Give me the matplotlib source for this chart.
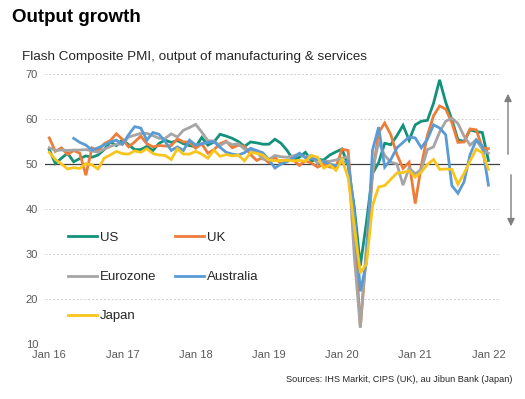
import numpy as np
import matplotlib
matplotlib.use("Agg")
import matplotlib.pyplot as plt

plt.rcParams['font.family'] = ['Liberation Sans', 'DejaVu Sans']

# monthly data, Jan 2016 .. Jan 2022
months = np.arange(73)
tick_months = [0, 12, 24, 36, 48, 60, 72]
tick_labels = ["Jan 16", "Jan 17", "Jan 18", "Jan 19", "Jan 20", "Jan 21", "Jan 22"]

us = [53.2, 50.1, 51.3, 52.4, 50.5, 51.2, 51.8, 51.5, 52.0, 53.2, 54.9, 54.1,
      55.4, 54.3, 53.2, 53.2, 53.9, 53.0, 54.6, 55.3, 54.8, 55.2, 54.5, 54.1,
      53.8, 55.9, 54.2, 54.9, 56.6, 56.2, 55.7, 55.0, 53.9, 54.9, 54.7, 54.4,
      54.4, 55.5, 54.6, 53.0, 50.9, 51.5, 52.6, 50.7, 51.0, 50.9, 52.0, 52.7,
      53.3, 49.6, 40.5, 27.4, 37.0, 47.9, 50.3, 54.6, 54.3, 56.3, 58.6, 55.3,
      58.7, 59.5, 59.7, 63.5, 68.7, 63.7, 59.9, 55.4, 55.0, 57.6, 57.2, 57.0,
      50.8]
uk = [55.8, 52.8, 53.6, 52.1, 53.0, 52.4, 47.5, 53.6, 52.9, 54.5, 55.2, 56.7,
      55.5, 53.8, 54.9, 56.2, 54.5, 53.8, 54.1, 54.0, 54.1, 55.6, 54.9, 54.9,
      53.5, 54.5, 52.4, 53.2, 54.5, 55.1, 53.6, 54.2, 53.9, 52.1, 50.8, 51.4,
      50.3, 51.5, 50.0, 50.9, 50.9, 49.7, 50.7, 50.2, 49.3, 50.0, 49.3, 49.3,
      53.3, 53.0, 36.0, 13.8, 30.0, 47.7, 57.0, 59.1, 56.5, 52.1, 49.0, 50.4,
      41.2, 49.6, 56.4, 60.7, 62.9, 62.2, 59.2, 54.8, 54.9, 57.8, 57.6, 53.6,
      53.4]
eurozone = [53.6, 53.0, 53.1, 53.0, 53.1, 53.1, 53.2, 52.9, 52.6, 53.3, 53.9, 54.4,
            54.4, 56.0, 56.4, 56.8, 56.8, 56.3, 55.7, 55.7, 56.7, 56.0, 57.5, 58.1,
            58.8, 57.1, 55.2, 55.1, 54.1, 54.9, 54.3, 54.5, 53.3, 53.1, 52.7, 51.1,
            51.0, 51.9, 51.6, 51.5, 51.8, 52.2, 51.5, 51.9, 50.1, 50.6, 50.6, 50.9,
            51.3, 51.6, 29.7, 13.6, 31.9, 48.5, 54.9, 51.9, 50.4, 50.0, 45.3, 49.1,
            47.8, 48.8, 53.2, 53.8, 57.1, 59.5, 60.2, 59.0, 56.2, 54.2, 55.4, 53.3,
            52.4]
australia = [np.nan, np.nan, np.nan, np.nan, 55.7, 54.8, 54.2, 53.1, 53.6, 54.2, 54.9, 55.3,
             54.4, 56.5, 58.3, 58.0, 55.3, 57.0, 56.6, 55.0, 53.0, 53.8, 53.0, 55.3,
             54.2, 54.5, 54.8, 55.0, 53.7, 52.6, 52.2, 52.0, 52.5, 53.5, 53.0, 52.5,
             51.0, 49.1, 50.0, 50.5, 51.3, 52.4, 51.4, 51.2, 51.0, 50.5, 50.0, 49.6,
             50.3, 50.6, 39.5, 21.7, 28.0, 53.1, 58.2, 49.3, 51.0, 53.6, 54.8, 56.0,
             55.8, 53.6, 55.5, 58.7, 58.0, 56.5, 45.2, 43.5, 46.0, 52.1, 55.3, 54.0,
             45.3]
japan = [52.6, 51.0, 50.0, 48.9, 49.2, 49.0, 50.1, 49.8, 48.9, 51.3, 52.0, 52.8,
         52.3, 52.2, 52.9, 52.6, 53.4, 52.3, 52.0, 51.9, 51.0, 53.4, 52.2, 52.2,
         52.8, 52.2, 51.3, 53.1, 51.7, 52.1, 51.8, 52.0, 50.7, 52.5, 52.4, 52.0,
         50.9, 50.7, 50.8, 50.8, 50.7, 50.8, 50.6, 51.9, 51.5, 49.1, 49.8, 48.6,
         51.0, 47.0, 36.2, 25.8, 27.8, 40.8, 44.9, 45.2, 46.6, 48.0, 48.1, 48.5,
         47.1, 48.2, 49.9, 51.0, 48.8, 48.9, 48.8, 45.5, 47.9, 50.7, 53.3, 52.5,
         48.8]

names = ["US", "UK", "Eurozone", "Australia", "Japan"]
colors = ["#12927A", "#EE7D3A", "#A5A5A5", "#5B9BD5", "#F8C51C"]
series = [us, uk, eurozone, australia, japan]

fig = plt.figure(figsize=(5.25, 3.99), dpi=100)
ax = fig.add_axes([45 / 525, 1 - 344 / 399, 455 / 525, 270 / 399])

lines = {}
for name, vals, c in zip(names, series, colors):
    lines[name], = ax.plot(months, vals, color=c, lw=2.0, label=name,
                           solid_joinstyle='miter')

ax.set_ylim(10, 70)
ax.set_xlim(-0.7, 73.9)
ax.set_yticks(range(10, 71, 10))
ax.set_xticks(tick_months)
ax.set_xticklabels(tick_labels)
ax.tick_params(length=0, labelsize=8, colors="#595959", pad=4)
ax.tick_params(axis='y', pad=5)
for s in ax.spines.values():
    s.set_visible(False)
for v in [10, 20, 30, 40, 60, 70]:
    ax.axhline(v, color="#D0D0D0", lw=0.7, ls=(0, (2, 2)), zorder=0)
ax.axhline(50, color="#404040", lw=0.9, zorder=1)

order = ["US", "Eurozone", "Japan", "UK", "Australia"]
fig.legend([lines[n] for n in order], order, ncol=2, loc='center left',
           bbox_to_anchor=(61 / 525, 1 - 277 / 399), frameon=False,
           fontsize=9.5, handlelength=2.2, handletextpad=0.25,
           columnspacing=1.4, labelspacing=2.05, borderpad=0, labelcolor="#262626")

# up / down arrows on the right
arrow_kw = dict(arrowstyle='-|>', color="#7F7F7F", lw=1.0, mutation_scale=11)
fig.patches.append(matplotlib.patches.FancyArrowPatch(
    (508, 399 - 157), (508, 399 - 91), transform=None, **arrow_kw))
fig.patches.append(matplotlib.patches.FancyArrowPatch(
    (511, 399 - 172), (511, 399 - 229), transform=None, **arrow_kw))

fig.text(12 / 525, 1 - 17 / 399, "Output growth", fontsize=13.5,
         fontweight='bold', va='center', ha='left')
fig.text(22 / 525, 1 - 57 / 399,
         "Flash Composite PMI, output of manufacturing & services",
         fontsize=9.7, va='center', ha='left', color="#262626")
fig.text(512 / 525, 1 - 380 / 399,
         "Sources: IHS Markit, CIPS (UK), au Jibun Bank (Japan)",
         fontsize=6.6, va='center', ha='right', color="#262626")

fig.savefig("out.png", dpi=100)
